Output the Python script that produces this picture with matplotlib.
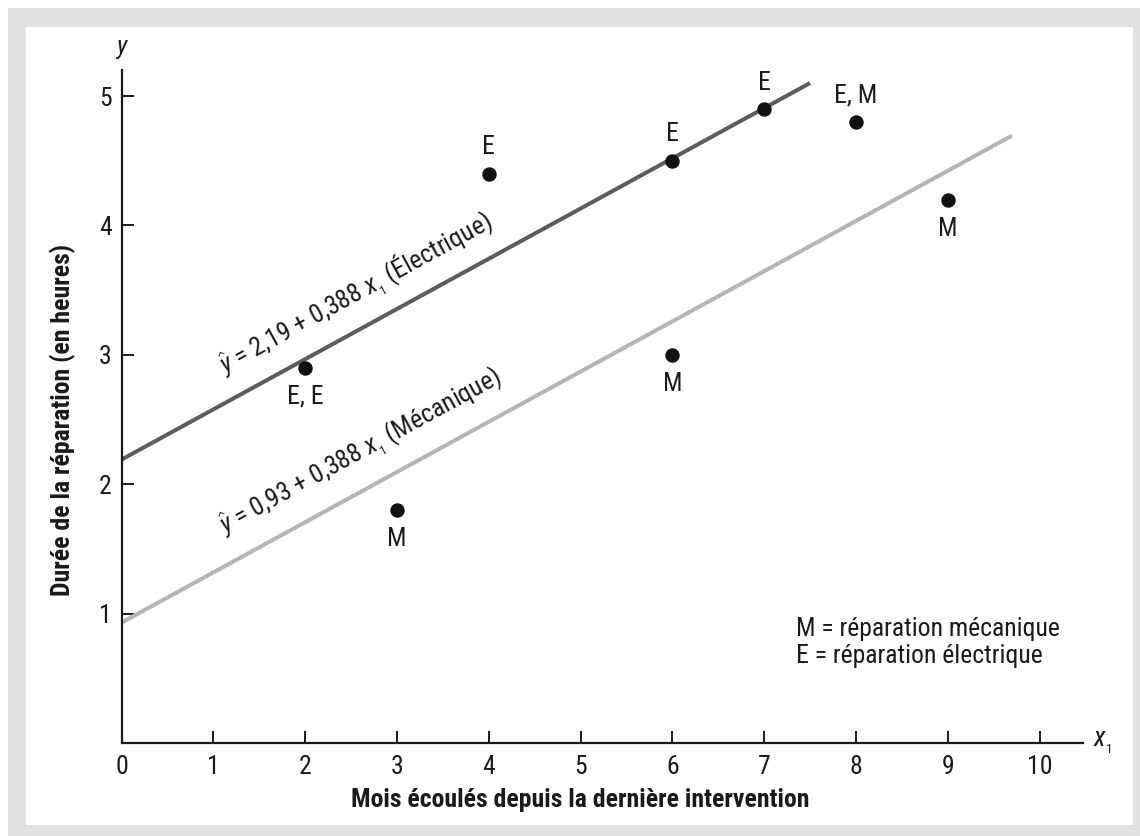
import math
import matplotlib
matplotlib.use('Agg')
import matplotlib.pyplot as plt
from matplotlib import font_manager as fm
from matplotlib.patches import Rectangle

# points shown on the chart (duplicates merged into one label)
point_x = [2, 3, 4, 6, 6, 7, 8, 9]
point_y = [2.9, 1.8, 4.4, 4.5, 3.0, 4.9, 4.8, 4.2]
point_labels = ['E, E', 'M', 'E', 'E', 'M', 'E', 'E, M', 'M']
label_above = [False, False, True, True, False, True, True, False]

# regression lines
intercepts = [2.19, 0.93]
slope = 0.388
line_ends = [7.5, 9.7]
line_colors = ['#5c5c5c', '#b5b5b5']
eq_texts = [r'$\hat{y}$ = 2,19 + 0,388 $x_{_1}$ (Électrique)',
            r'$\hat{y}$ = 0,93 + 0,388 $x_{_1}$ (Mécanique)']

x_ticks = list(range(0, 11))
y_ticks = [1, 2, 3, 4, 5]
legend_lines = ['M = réparation mécanique', 'E = réparation électrique']

# pick a condensed font if there is one
names = {f.name for f in fm.fontManager.ttflist}
font = 'Roboto'
for cand in ['Liberation Sans Narrow', 'Roboto Condensed', 'Open Sans Condensed']:
    if cand in names:
        font = cand
        break

plt.rcParams['font.family'] = [font, 'DejaVu Sans']
plt.rcParams['mathtext.fontset'] = 'custom'
plt.rcParams['mathtext.rm'] = font
plt.rcParams['mathtext.it'] = font + ':italic'
plt.rcParams['mathtext.bf'] = font + ':bold'

FS = 18.5
W, H = 1140, 836
fig = plt.figure(figsize=(W / 100, H / 100), dpi=100)

# grey frame with white panel
fig.patches.append(Rectangle((8 / W, 0), 1 - 8 / W, 1 - 8 / H, transform=fig.transFigure,
                             facecolor='#e1e2e2', edgecolor='none', zorder=-10))
fig.patches.append(Rectangle((26 / W, 11 / H), (1133 - 26) / W, (825 - 27) / H,
                             transform=fig.transFigure, facecolor='white',
                             edgecolor='none', zorder=-9))

ax = fig.add_axes([121.5 / W, (H - 743) / H, (1083 - 121.5) / W, (743 - 70) / H])
ax.patch.set_alpha(0)
ax.set_xlim(0, (1083 - 121.5) / 91.8)
ax.set_ylim(0, (743 - 70) / 129.4)

for s in ['top', 'right']:
    ax.spines[s].set_visible(False)
for s in ['left', 'bottom']:
    ax.spines[s].set_linewidth(1.6)
    ax.spines[s].set_color('#1a1a1a')

ax.set_xticks(x_ticks)
ax.set_yticks(y_ticks)
ax.tick_params(direction='in', length=8.6, width=1.4, color='#1a1a1a',
               labelsize=FS, labelcolor='#1a1a1a')
ax.tick_params(axis='x', pad=9)
ax.tick_params(axis='y', pad=7)

# regression lines
for b0, xe, col in zip(intercepts, line_ends, line_colors):
    ax.plot([0, xe], [b0, b0 + slope * xe], color=col, lw=2.9, solid_capstyle='butt', zorder=2)

# points
ax.scatter(point_x, point_y, s=88, color='#111111', zorder=3)
for x, y, lab, up in zip(point_x, point_y, point_labels, label_above):
    ax.annotate(lab, (x, y), xytext=(0, 19 if up else -21), textcoords='offset points',
                ha='center', va='center', fontsize=FS, color='#1a1a1a')

# equation labels along the lines
p0 = ax.transData.transform((0, 0))
p1 = ax.transData.transform((1, slope))
ang = math.degrees(math.atan2(p1[1] - p0[1], p1[0] - p0[0]))
th = math.radians(ang)
for b0, txt, x0, d in zip(intercepts, eq_texts, [1.25, 1.27], [18, 19.5]):
    ax.annotate(txt, (x0, b0 + slope * x0), xytext=(-math.sin(th) * d, math.cos(th) * d),
                textcoords='offset points', rotation=ang, rotation_mode='anchor',
                ha='left', va='baseline', fontsize=FS, color='#1a1a1a')

# legend text
for i, t in enumerate(legend_lines):
    ax.text(7.35, 0.88 - 0.21 * i, t, ha='left', va='center', fontsize=FS, color='#1a1a1a')

# axis names
ax.text(0, 5.38, 'y', style='italic', ha='center', va='center', fontsize=FS, color='#1a1a1a',
        clip_on=False)
ax.text(10.58, 0, r'$x_{_1}$', ha='left', va='center', fontsize=FS + 1, color='#1a1a1a',
        clip_on=False)
ax.text(5, -0.44, 'Mois écoulés depuis la dernière intervention', ha='center', va='center',
        fontsize=FS, fontweight='bold', color='#1a1a1a', clip_on=False)
ax.text(-0.64, 2.5, 'Durée de la réparation (en heures)', rotation=90, ha='center',
        va='center', fontsize=FS, fontweight='bold', color='#1a1a1a', clip_on=False)

fig.savefig('out.png', dpi=100)
